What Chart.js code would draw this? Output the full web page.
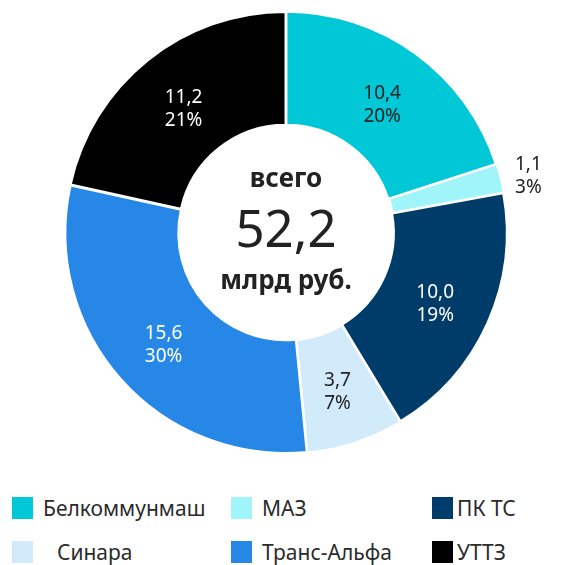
<!DOCTYPE html>
<html>
<head>
<meta charset="utf-8">
<script src="https://cdn.jsdelivr.net/npm/chart.js@4"></script>
<style>
  body { margin: 0; background: #fff; font-family: "Noto Sans", sans-serif; }
  #wrap { position: relative; width: 577px; height: 565px; overflow: hidden; }
  #chartBox { position: absolute; left: 0; top: 0; width: 577px; height: 470px; }
  .lg { position: absolute; height: 22px; display: flex; align-items: center; font-size: 21px; color: #2b2b2b; white-space: nowrap; }
  .lg i { display: inline-block; width: 21px; height: 22px; margin-right: 10px; }
</style>
</head>
<body>
<div id="wrap">
  <div id="chartBox"><canvas id="c"></canvas></div>
  <div id="legend"></div>
</div>
<script>
const companies = ["Белкоммунмаш", "МАЗ", "ПК ТС", "Синара", "Транс-Альфа", "УТТЗ"];
const amounts = [10.4, 1.1, 10.0, 3.7, 15.6, 11.2];
const shares = [20, 3, 19, 7, 30, 21];
const colors = ["#00c8d7", "#a0f5fa", "#003c69", "#d2ebfb", "#2787e6", "#000000"];
const labelColors = ["#222", "#222", "#fff", "#222", "#fff", "#fff"];
const outside = [false, true, false, false, false, false];
const total = "52,2";

const fmt = (v) => v.toFixed(1).replace(".", ",");

// slice labels: value + percent
const sliceLabels = {
  id: "sliceLabels",
  afterDatasetsDraw(chart) {
    const ctx = chart.ctx;
    const meta = chart.getDatasetMeta(0);
    ctx.save();
    ctx.font = '19px "Noto Sans"';
    ctx.textAlign = "center";
    ctx.textBaseline = "middle";
    meta.data.forEach((arc, i) => {
      const p = arc.getProps(["x", "y", "startAngle", "endAngle", "innerRadius", "outerRadius"]);
      const mid = (p.startAngle + p.endAngle) / 2;
      const r = outside[i] ? p.outerRadius + 30 : (p.innerRadius + p.outerRadius) / 2;
      const x = p.x + Math.cos(mid) * r;
      const y = p.y + Math.sin(mid) * r;
      ctx.fillStyle = outside[i] ? "#222" : labelColors[i];
      ctx.fillText(fmt(amounts[i]), x, y - 7);
      ctx.fillText(shares[i] + "%", x, y + 16);
    });
    ctx.restore();
  }
};

// total in the hole
const centerText = {
  id: "centerText",
  afterDatasetsDraw(chart) {
    const ctx = chart.ctx;
    const arc = chart.getDatasetMeta(0).data[0];
    const cx = arc.x, cy = arc.y;
    ctx.save();
    ctx.fillStyle = "#222";
    ctx.textAlign = "center";
    ctx.textBaseline = "alphabetic";
    ctx.font = 'bold 26px "Noto Sans"';
    ctx.fillText("всего", cx, cy - 46);
    ctx.font = '51px "Noto Sans"';
    ctx.fillText(total, cx, cy + 14);
    ctx.font = 'bold 26px "Noto Sans"';
    ctx.fillText("млрд руб.", cx, cy + 56);
    ctx.restore();
  }
};

new Chart(document.getElementById("c"), {
  type: "doughnut",
  data: {
    labels: companies,
    datasets: [{
      data: amounts,
      backgroundColor: colors,
      borderColor: "#fff",
      borderWidth: 2,
      offset: 3,
      hoverOffset: 0
    }]
  },
  options: {
    responsive: true,
    maintainAspectRatio: false,
    animation: false,
    radius: 220,
    cutout: 112,
    layout: { padding: { left: 0, right: 5, top: 0, bottom: 5 } },
    plugins: {
      legend: { display: false },
      tooltip: { enabled: false }
    }
  },
  plugins: [sliceLabels, centerText]
});

// legend in 3 columns
const legendPos = [
  { x: 12, y: 497, tx: 0 },
  { x: 231, y: 497, tx: 0 },
  { x: 432, y: 497, tx: -6 },
  { x: 12, y: 541, tx: 14 },
  { x: 231, y: 541, tx: 0 },
  { x: 432, y: 541, tx: -6 }
];
const legend = document.getElementById("legend");
companies.forEach((name, i) => {
  const d = document.createElement("div");
  d.className = "lg";
  d.style.left = legendPos[i].x + "px";
  d.style.top = legendPos[i].y + "px";
  d.innerHTML = '<i style="background:' + colors[i] + '"></i><span style="margin-left:' + legendPos[i].tx + 'px">' + name + "</span>";
  legend.appendChild(d);
});
</script>
</body>
</html>
